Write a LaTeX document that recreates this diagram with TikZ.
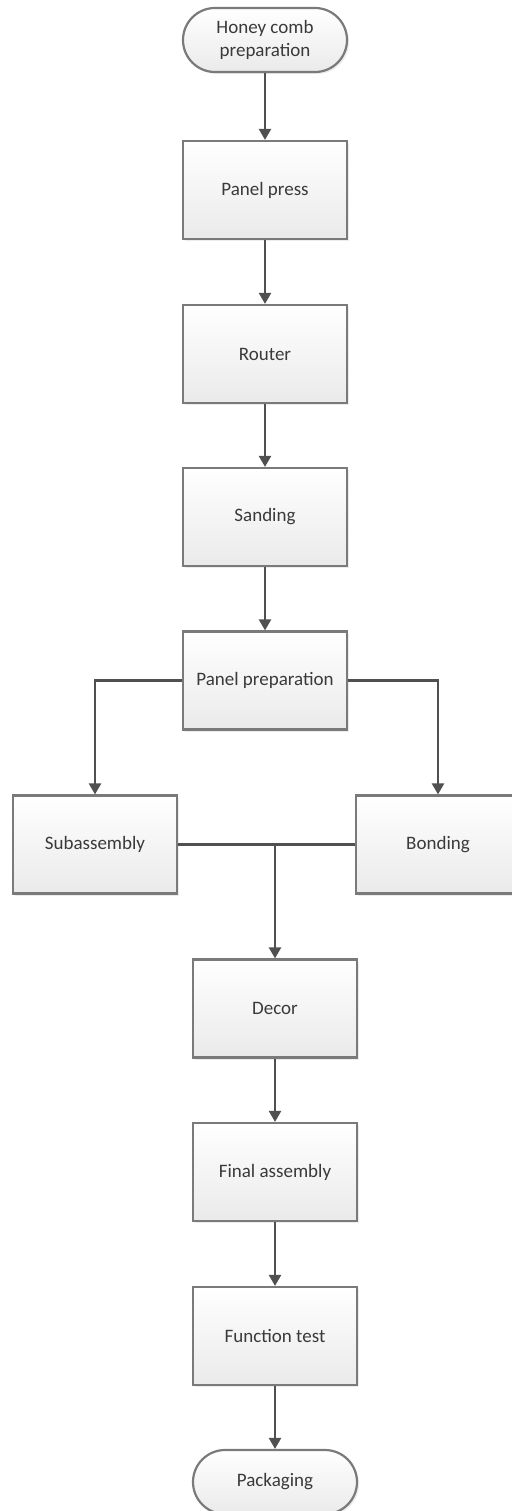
\documentclass[tikz,border=0pt]{standalone}
\usepackage{fontspec}
\setmainfont{Carlito}
\usetikzlibrary{arrows.meta,shadows}
\definecolor{boxline}{HTML}{7A7A7A}
\definecolor{arrowcol}{HTML}{505050}
\definecolor{txt}{HTML}{3A3A3A}
\definecolor{boxbot}{HTML}{EAEAEA}
\tikzset{
  procbox/.style={draw=boxline, line width=2.2pt, top color=white, bottom color=boxbot,
    minimum width=164pt, minimum height=98pt, inner sep=0pt, text=txt,
    font=\fontsize{19}{23}\selectfont, align=center,
    drop shadow={shadow xshift=2pt, shadow yshift=-2pt, opacity=0.15}},
  termbox/.style={procbox, minimum height=64pt, rounded corners=32pt},
  flow/.style={draw=arrowcol, line width=2.3pt, -{Triangle[width=12pt,length=11pt]}},
  flowline/.style={draw=arrowcol, line width=2.3pt}
}
\begin{document}
\begin{tikzpicture}[x=1pt,y=-1pt]
\useasboundingbox[fill=white] (0,0) rectangle (511,1511);
\node[termbox] (hc) at (265,40) {Honey comb\\preparation};
\node[procbox] (pp) at (265,190) {Panel press};
\node[procbox] (ro) at (265,354) {Router};
\node[procbox] (sa) at (265,517) {Sanding};
\node[procbox] (prep) at (265,680.5) {Panel preparation};
\node[procbox] (sub) at (95,844.5) {Subassembly};
\node[procbox] (bo) at (438,844.5) {Bonding};
\node[procbox] (de) at (275,1008.5) {Decor};
\node[procbox] (fa) at (275,1172) {Final assembly};
\node[procbox] (ft) at (275,1336) {Function test};
\node[termbox] (pk) at (275,1482) {Packaging};
\coordinate (j) at (275,844.5);
\draw[flow] (hc) -- (pp);
\draw[flow] (pp) -- (ro);
\draw[flow] (ro) -- (sa);
\draw[flow] (sa) -- (prep);
\draw[flow] (prep.west) -| (sub.north);
\draw[flow] (prep.east) -| (bo.north);
\draw[flowline] (sub.east) -- (bo.west);
\draw[flow] (j) -- (de.north);
\draw[flow] (de) -- (fa);
\draw[flow] (fa) -- (ft);
\draw[flow] (ft) -- (pk);
\end{tikzpicture}
\end{document}
